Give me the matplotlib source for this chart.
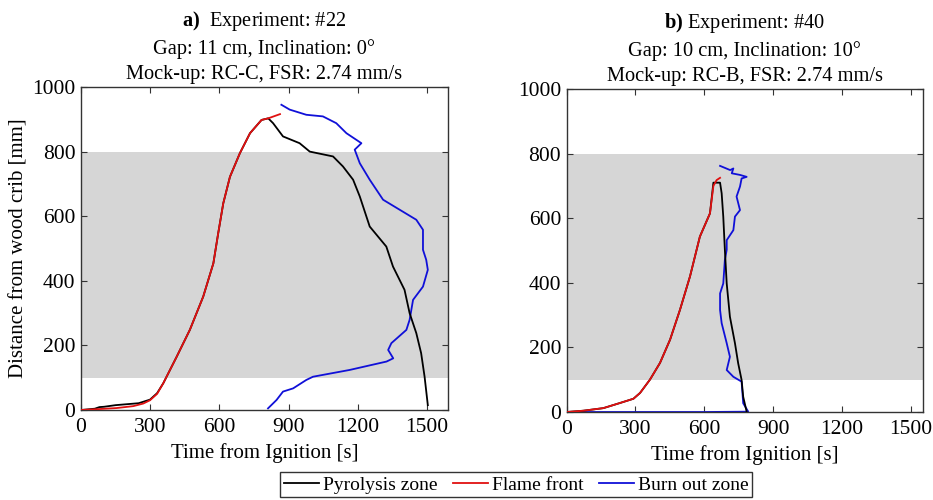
import numpy as np
import matplotlib
matplotlib.use("Agg")
import matplotlib.pyplot as plt

plt.rcParams['font.family'] = ['Liberation Serif', 'DejaVu Serif']
plt.rcParams['mathtext.fontset'] = 'custom'
plt.rcParams['mathtext.rm'] = 'Liberation Serif'
plt.rcParams['mathtext.bf'] = 'Liberation Serif:bold'

# =========================
# DATA
# =========================

# a) Experiment #22
a_pyro_t = [0, 60, 80, 100, 150, 200, 250, 299, 330, 357, 415, 472, 530, 574, 595, 617,
            646, 689, 733, 783, 812, 833, 876, 948, 992, 1093, 1136, 1180, 1209, 1252,
            1324, 1353, 1403, 1425, 1454, 1475, 1490, 1504]
a_pyro_d = [0, 4, 9, 10, 15, 18, 21, 32, 52, 83, 165, 248, 351, 454, 547, 640,
            722, 795, 857, 898, 903, 888, 847, 826, 800, 785, 754, 713, 661, 568,
            506, 444, 372, 300, 238, 176, 103, 15]

a_flame_t = [0, 82, 154, 227, 270, 299, 330, 357, 415, 472, 530, 574, 595, 617, 646,
             689, 733, 783, 812, 863]
a_flame_d = [0, 3, 6, 12, 20, 30, 50, 83, 165, 248, 351, 454, 547, 640, 722,
             795, 857, 898, 903, 916]

a_burn_t = [869, 905, 977, 1049, 1107, 1151, 1216, 1187, 1209, 1252, 1310, 1382, 1454,
            1483, 1483, 1497, 1504, 1483, 1440, 1425, 1411, 1346, 1332, 1354, 1325,
            1165, 1006, 977, 920, 876, 848, 811]
a_burn_d = [945, 930, 914, 909, 888, 857, 826, 806, 764, 713, 651, 620, 589,
            558, 496, 465, 434, 382, 341, 279, 248, 207, 186, 160, 150,
            124, 103, 93, 67, 57, 31, 5]

# b) Experiment #40
b_pyro_t = [0, 73, 160, 233, 291, 320, 363, 407, 451, 494, 538, 581, 625, 640, 669,
            676, 683, 690, 698, 712, 734, 748, 763, 770, 785]
b_pyro_d = [0, 4, 12, 28, 41, 59, 100, 152, 224, 316, 420, 543, 615, 710, 710,
            677, 605, 502, 398, 295, 213, 151, 99, 47, 1]

b_flame_t = [0, 73, 160, 233, 291, 320, 363, 407, 451, 494, 538, 581, 625, 640, 654, 669]
b_flame_d = [0, 4, 12, 28, 41, 59, 100, 152, 224, 316, 420, 543, 615, 700, 718, 725]

b_burn_t = [0, 300, 600, 792, 770, 763, 727, 698, 712, 698, 676, 669, 669, 683, 690,
            698, 698, 727, 734, 756, 741, 756, 763, 785, 756, 720, 727, 713, 669]
b_burn_d = [0, 0, 0, 1, 27, 94, 109, 130, 171, 213, 275, 316, 367, 398, 471,
            502, 532, 563, 605, 625, 667, 698, 723, 728, 734, 739, 754, 749, 762]

zone_low, zone_high = 100, 800

panels = [
    (r"$\mathbf{a)}$  Experiment: #22", "Gap: 11 cm, Inclination: 0°",
     "Mock-up: RC-C, FSR: 2.74 mm/s",
     (a_pyro_t, a_pyro_d), (a_flame_t, a_flame_d), (a_burn_t, a_burn_d), 1590),
    (r"$\mathbf{b)}$ Experiment: #40", "Gap: 10 cm, Inclination: 10°",
     "Mock-up: RC-B, FSR: 2.74 mm/s",
     (b_pyro_t, b_pyro_d), (b_flame_t, b_flame_d), (b_burn_t, b_burn_d), 1554),
]

fig = plt.figure(figsize=(9.33, 5.0), dpi=100)
ax_a = fig.add_axes([0.0868, 0.180, 0.393, 0.646])
ax_b = fig.add_axes([0.6074, 0.176, 0.3818, 0.646])

for ax, (l1, l2, l3, pyro, flame, burn, xmax) in zip([ax_a, ax_b], panels):
    ax.axhspan(zone_low, zone_high, color='#d6d6d6', lw=0, zorder=0)
    hp, = ax.plot(*pyro, color='black', lw=1.3, label='Pyrolysis zone', zorder=3)
    hf, = ax.plot(*flame, color='#e01010', lw=1.3, label='Flame front', zorder=4)
    hb, = ax.plot(*burn, color='#1010d8', lw=1.3, label='Burn out zone', zorder=2)
    ax.set_xlim(0, xmax)
    ax.set_ylim(0, 1000)
    ax.set_xticks([0, 300, 600, 900, 1200, 1500])
    ax.set_yticks([0, 200, 400, 600, 800, 1000])
    ax.tick_params(direction='in', top=True, right=True, labelsize=15.5, length=4,
                   color='#333333')
    ax.tick_params(axis='x', pad=6)
    ax.tick_params(axis='y', pad=4)
    for s in ax.spines.values():
        s.set_color('#333333')
        s.set_linewidth(1.0)
    ax.set_xlabel('Time from Ignition [s]', fontsize=15, labelpad=4)
    ax.set_title(l1 + "\n" + l2 + "\n" + l3, fontsize=14.7, linespacing=1.42, pad=6)

ax_a.set_ylabel('Distance from wood crib [mm]', fontsize=15, labelpad=3)

leg = fig.legend(handles=[hp, hf, hb], loc='upper center', bbox_to_anchor=(0.553, 0.056),
                 ncol=3, fontsize=14, frameon=True, fancybox=False, edgecolor='black',
                 handlelength=1.8, handletextpad=0.2, columnspacing=0.8,
                 borderpad=0.2, borderaxespad=0)
leg.get_frame().set_linewidth(1.0)

fig.savefig('out.png', dpi=100)
